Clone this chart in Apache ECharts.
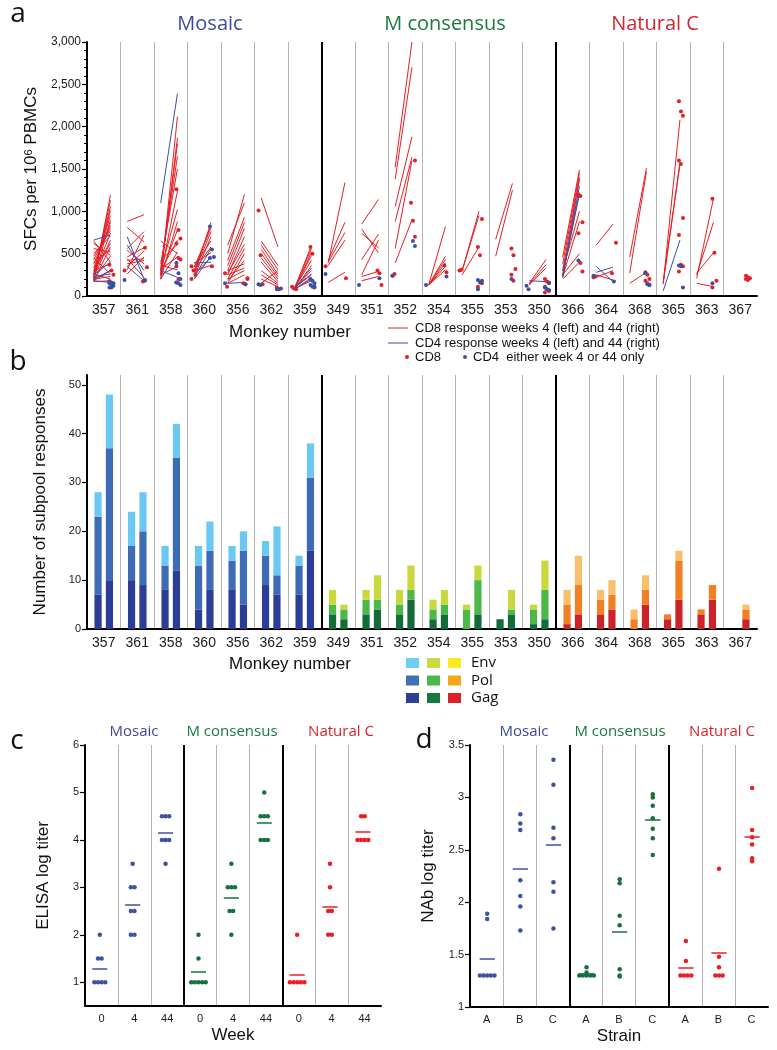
<!DOCTYPE html>
<html>
<head>
<meta charset="utf-8">
<script src="https://cdn.jsdelivr.net/npm/echarts@6/dist/echarts.min.js"></script>
<style>
html,body{margin:0;padding:0;background:#fff}
#main{width:777px;height:1050px}
</style>
</head>
<body>
<div id="main"></div>
<script>
// monkeys, in plot order, and their vaccine groups
var monkeys = ['357','361','358','360','356','362','359','349','351','352','354','355','353','350','366','364','368','365','363','367'];
var groupNames = ['Mosaic', 'M consensus', 'Natural C'];
var groupSizes = [7, 7, 6];

// panel a: CD8 / CD4 responses, [week 4, week 44] pairs per monkey
var cd8Pairs = [
    [[180,1190],[200,1130],[230,1060],[260,1010],[290,950],[200,900],[330,870],[380,830],[430,800],[470,770],[250,740],[500,710],[220,660],[300,620],[180,580],[400,550],[560,520],[200,470],[620,480],[650,400],[300,380],[180,300],[450,260],[200,230],[260,200],[170,180]],
    [[880,960],[810,640],[560,760],[460,570],[420,440],[380,420],[310,720],[260,460],[540,380],[440,220],[350,530]],
    [[200,2120],[240,1870],[280,1800],[320,1650],[380,1500],[250,1240],[300,1020],[650,500],[200,880],[260,780],[300,660],[420,610],[200,520],[320,460],[360,310]],
    [[250,870],[300,840],[340,800],[280,760],[230,700],[350,650],[300,580],[390,510],[250,460],[300,360]],
    [[500,1200],[600,1100],[420,930],[360,870],[300,800],[250,700],[270,610],[200,560],[150,500],[180,420],[300,380],[250,330],[200,300],[150,250]],
    [[1160,580],[650,360],[600,310],[550,260],[500,230],[450,200],[400,170],[300,150],[250,130],[200,110],[150,300]],
    [[90,600],[100,560],[80,520],[90,480],[100,420],[80,360],[90,300],[100,260],[80,220],[90,180]],
    [[390,1340],[420,870],[400,750],[360,660],[160,280]],
    [[850,1140],[790,510],[740,570],[430,730],[250,660],[230,290],[180,230]],
    [[1520,3000],[1380,2700],[1060,1880],[880,1640],[560,1600],[390,900]],
    [[130,820],[130,470],[130,430],[130,390],[130,350],[130,310]],
    [[300,1000],[300,950],[250,580]],
    [[670,1330],[470,1250]],
    [[150,430],[140,370],[130,330]],
    [[460,1490],[380,1450],[300,1400],[220,1380],[250,1210],[300,1000],[230,880],[250,500],[200,400]],
    [[600,850],[220,300],[250,190]],
    [[460,1510],[270,1470],[150,280]],
    [[140,2080],[150,1580],[160,1550]],
    [[210,1150],[250,870],[270,510],[150,110]],
    []
];
var cd4Pairs = [
    [[660,720],[250,400],[200,300],[230,260],[180,160]],
    [[700,200],[600,300],[350,180]],
    [[1100,2390],[250,350],[300,220]],
    [[220,560],[200,470],[390,400]],
    [[150,160]],
    [],
    [[90,330],[100,250],[80,200]],
    [], [], [], [], [], [],
    [[180,170]],
    [[220,1300],[250,1220]],
    [[350,170],[280,340]],
    [],
    [[60,660]],
    [],
    []
];
// single-week responses: [0 = week 4 / 1 = week 44, value]
var cd8Dots = [
    [[1,370],[1,300],[1,250],[1,170],[1,160]],
    [[0,300],[1,570],[1,340],[1,170],[1,180]],
    [[1,1260],[1,780],[1,680],[1,620],[1,450],[1,430],[1,350],[1,200]],
    [[0,350],[0,300],[0,250],[0,200],[1,350]],
    [[0,270],[0,110],[1,200],[1,150],[1,140],[1,210]],
    [[0,1010],[0,480],[0,140],[1,100],[1,80]],
    [[0,110],[0,90],[0,80],[1,580],[1,500],[1,100]],
    [[0,350],[1,210]],
    [[1,300],[1,270],[1,130]],
    [[0,240],[0,260],[1,1600],[1,1100],[1,890],[1,700]],
    [[1,360],[1,280]],
    [[0,300],[0,310],[1,910],[1,580],[1,480],[1,150],[1,110]],
    [[1,560],[1,480],[1,320],[1,250],[1,180]],
    [[1,200],[1,170],[1,160],[1,110],[1,80],[1,60],[1,40]],
    [[1,1200],[1,1180],[1,870],[1,740],[1,390],[1,290]],
    [[0,220],[0,230],[1,630],[1,270]],
    [[1,280],[1,250],[1,200],[1,180],[1,150],[1,130]],
    [[1,2300],[1,2180],[1,2130],[1,1600],[1,1560],[1,920],[1,720],[1,370],[1,350],[1,290]],
    [[1,1150],[1,510],[1,180],[1,100]],
    [[1,240],[1,220],[1,210],[1,200],[1,190]]
];
var cd4Dots = [
    [[1,150],[1,130],[1,120],[1,100],[1,100],[1,150],[1,170]],
    [[0,190],[1,190]],
    [[1,390],[1,270],[1,200],[1,160],[1,150],[1,130],[1,160]],
    [[1,820],[1,550],[1,460],[1,450]],
    [[0,150],[1,140]],
    [[0,140],[0,130],[1,90],[1,80]],
    [[1,200],[1,180],[1,150],[1,130],[1,110],[1,110]],
    [[0,260]],
    [[0,130],[1,210]],
    [[0,240],[1,650],[1,590]],
    [[0,130],[1,230]],
    [[1,190],[1,160],[1,180],[1,80]],
    [[1,200]],
    [[0,120],[0,80],[1,150],[1,100],[1,80],[1,70]],
    [[1,420]],
    [[0,240],[1,170]],
    [[1,270],[1,140],[1,130]],
    [[1,360],[1,350],[1,100]],
    [[1,150]],
    []
];
var sfcTicks = [0, 500, 1000, 1500, 2000, 2500, 3000];

// panel b: number of subpool responses (Gag, Pol, Env) at week 4 and week 44
var gagW4  = [7,10,8,4,8,9,7, 3,3,3,2,0,2,1, 1,3,0,2,3,0];
var polW4  = [16,7,5,9,6,6,6, 2,3,2,2,4,0,3, 4,3,2,1,1,0];
var envW4  = [5,7,4,4,3,3,2, 3,2,3,2,1,0,1, 3,2,2,0,0,0];
var gagW44 = [10,9,12,8,5,7,16, 2,4,6,3,3,3,2, 3,4,5,6,6,2];
var polW44 = [27,11,23,8,11,4,15, 2,2,2,2,7,1,6, 6,3,3,8,3,2];
var envW44 = [11,8,7,6,4,10,7, 1,5,5,3,3,4,6, 6,3,3,2,0,1];
var subpoolTicks = [0, 10, 20, 30, 40, 50];
var proteinNames = ['Env', 'Pol', 'Gag'];

// panel c: ELISA log titer, weeks 0 / 4 / 44 per group
var weekLabels = ['0', '4', '44'];
var elisaMosaic = [[1,1,1,1,1.5,1.5,2], [2,2,2.5,2.5,3,3,3.5], [3.5,4,4,4,4.5,4.5,4.5]];
var elisaMcons  = [[1,1,1,1,1,1.5,2], [2,2.5,2.5,3,3,3,3.5], [4,4,4,4.5,4.5,4.5,5]];
var elisaNatC   = [[1,1,1,1,1,2], [2,2,2.5,2.5,3,3.5], [4,4,4,4,4.5,4.5]];
var elisaTicks = [1, 2, 3, 4, 5, 6];

// panel d: NAb log titer, strains A / B / C per group
var strainLabels = ['A', 'B', 'C'];
var nabMosaic = [[1.3,1.3,1.3,1.3,1.3,1.84,1.89], [1.73,1.96,2.06,2.21,2.69,2.75,2.84], [1.75,2.1,2.19,2.61,2.71,3.12,3.36]];
var nabMcons  = [[1.3,1.3,1.3,1.3,1.3,1.33,1.38], [1.29,1.3,1.36,1.78,1.87,2.18,2.22], [2.45,2.61,2.7,2.8,2.92,3.0,3.03]];
var nabNatC   = [[1.3,1.3,1.3,1.3,1.44,1.63], [1.3,1.3,1.3,1.38,1.48,2.32], [2.39,2.42,2.55,2.62,2.69,3.09]];
var nabTicks = [1, 1.5, 2, 2.5, 3, 3.5];

// ---------------------------------------------------------------
var FONT = 'Liberation Sans, Arial, sans-serif';
var TITLE_FONT = 'Open Sans, Liberation Sans, sans-serif';
var RED = '#e41f26', BLUE = '#3a50a3';
var groupColors = ['#3b4aa0', '#1b7a3e', '#d9232b'];
var dotColors = ['#3f51a3', '#17703d', '#ee1c25'];
var barPalette = [
    ['#2b3d97', '#3d6bb5', '#6ac8f2'],
    ['#126b39', '#4cb848', '#cad83e'],
    ['#cc2229', '#ef8023', '#f9bf6c']
];
var legendSwatch = [
    ['#6dcff6', '#cbdb3f', '#fbec20'],
    ['#3f6fb8', '#4cb84a', '#f9a61a'],
    ['#2d3f96', '#137a40', '#dc2229']
];

function groupOf(i) {
    var acc = 0;
    for (var g = 0; g < groupSizes.length; g++) {
        acc += groupSizes[g];
        if (i < acc) return g;
    }
    return groupSizes.length - 1;
}
function bounds(sizes) {
    var out = [], acc = 0;
    for (var g = 0; g < sizes.length - 1; g++) { acc += sizes[g]; out.push(acc); }
    return out;
}
var monkeySeps = bounds(groupSizes);
var colSeps = bounds([3, 3, 3]);

function sepMark(xs) {
    return {
        silent: true, symbol: ['none', 'none'], animation: false,
        label: {show: false},
        lineStyle: {color: '#000', width: 2, type: 'solid'},
        emphasis: {disabled: true},
        data: xs.map(function (x) { return {xAxis: x}; })
    };
}

var leftPos = 0.2, rightPos = 0.7;
function pairLines(pairs) {
    var out = [];
    pairs.forEach(function (list, i) {
        list.forEach(function (p) {
            out.push({coords: [[i + leftPos, p[0]], [i + rightPos, p[1]]]});
        });
    });
    return out;
}
function singleDots(dots) {
    var out = [];
    dots.forEach(function (list, i) {
        list.forEach(function (d, k) {
            var x = i + (d[0] === 0 ? leftPos - 0.02 : rightPos + 0.03) + ((k % 3) - 1) * 0.06;
            out.push([x, d[1]]);
        });
    });
    return out;
}

var barData = [];
monkeys.forEach(function (m, i) {
    var g = groupOf(i);
    [[gagW4, polW4, envW4, 0.33], [gagW44, polW44, envW44, 0.67]].forEach(function (set) {
        var base = 0;
        for (var L = 0; L < 3; L++) {
            var v = set[L][i];
            if (v > 0) barData.push([i + set[3], base, base + v, g * 3 + L]);
            base += v;
        }
    });
});
function renderBar(params, api) {
    var lo = api.coord([api.value(0), api.value(1)]);
    var hi = api.coord([api.value(0), api.value(2)]);
    var c = api.value(3);
    // palette order is gag, pol, env
    return {
        type: 'rect',
        shape: {x: lo[0] - 3.6, y: hi[1], width: 7.2, height: lo[1] - hi[1]},
        style: {fill: barPalette[Math.floor(c / 3)][c % 3]}
    };
}

function swarm(cols, offset, center, step) {
    var out = [];
    cols.forEach(function (vals, j) {
        var counts = {}, seen = {};
        vals.forEach(function (v) { counts[v] = (counts[v] || 0) + 1; });
        vals.forEach(function (v) {
            var k = seen[v] || 0;
            seen[v] = k + 1;
            out.push([offset + j + center + (k - (counts[v] - 1) / 2) * step, v]);
        });
    });
    return out;
}
function meanBars(cols, offset, center, half) {
    return cols.map(function (vals, j) {
        var s = 0;
        vals.forEach(function (v) { s += v; });
        var m = s / vals.length;
        return {coords: [[offset + j + center - half, m], [offset + j + center + half, m]]};
    });
}

function valueX(grid, max) {
    return {
        type: 'value', gridIndex: grid, min: 0, max: max, interval: 1,
        axisLine: {show: true, lineStyle: {color: '#000', width: 2}},
        axisTick: {show: false}, axisLabel: {show: false},
        splitLine: {show: true, showMinLine: false, showMaxLine: false, lineStyle: {color: '#b4b4b4', width: 1}}
    };
}
function labelX(grid, data, size, extra) {
    var ax = {
        type: 'category', gridIndex: grid, data: data, position: 'bottom',
        axisLine: {show: false}, axisTick: {show: false},
        axisLabel: {interval: 0, fontSize: size, fontFamily: FONT, color: '#1a1a1a', margin: 7}
    };
    for (var k in extra) ax[k] = extra[k];
    return ax;
}
function valueY(grid, opts) {
    var ax = {
        type: 'value', gridIndex: grid,
        axisLine: {show: true, lineStyle: {color: '#000', width: 2}},
        axisTick: {show: true, length: 5, lineStyle: {color: '#000', width: 1.2}},
        axisLabel: {fontSize: 11, fontFamily: FONT, color: '#1a1a1a', margin: 6},
        splitLine: {show: false},
        nameLocation: 'middle', nameRotate: 90,
        nameTextStyle: {fontSize: 17, fontFamily: FONT, color: '#111'}
    };
    for (var k in opts) ax[k] = opts[k];
    return ax;
}

var colsC = [elisaMosaic, elisaMcons, elisaNatC];
var colsD = [nabMosaic, nabMcons, nabNatC];
var repeat3 = function (arr) { return arr.concat(arr, arr); };

var series = [
    {type: 'lines', coordinateSystem: 'cartesian2d', xAxisIndex: 0, yAxisIndex: 0, polyline: false, silent: true,
        lineStyle: {color: RED, width: 1, opacity: 1}, data: pairLines(cd8Pairs), z: 3},
    {type: 'lines', coordinateSystem: 'cartesian2d', xAxisIndex: 0, yAxisIndex: 0, polyline: false, silent: true,
        lineStyle: {color: BLUE, width: 1, opacity: 1}, data: pairLines(cd4Pairs), z: 4},
    {type: 'scatter', xAxisIndex: 0, yAxisIndex: 0, symbolSize: 4, itemStyle: {color: RED, opacity: 1},
        data: singleDots(cd8Dots), z: 5, markLine: sepMark(monkeySeps)},
    {type: 'scatter', xAxisIndex: 0, yAxisIndex: 0, symbolSize: 4, itemStyle: {color: BLUE, opacity: 1},
        data: singleDots(cd4Dots), z: 5},
    {type: 'custom', xAxisIndex: 2, yAxisIndex: 1, renderItem: renderBar, encode: {x: 0, y: [1, 2]},
        data: barData, markLine: sepMark(monkeySeps)}
];
colsC.forEach(function (cols, g) {
    series.push({type: 'scatter', xAxisIndex: 4, yAxisIndex: 2, symbolSize: 4.5,
        itemStyle: {color: dotColors[g], opacity: 1}, data: swarm(cols, g * 3, 0.45, 0.11),
        markLine: g === 0 ? sepMark(colSeps) : undefined});
    series.push({type: 'lines', coordinateSystem: 'cartesian2d', xAxisIndex: 4, yAxisIndex: 2, polyline: false,
        silent: true, lineStyle: {color: dotColors[g], width: 1.5, opacity: 1}, data: meanBars(cols, g * 3, 0.45, 0.23)});
});
colsD.forEach(function (cols, g) {
    series.push({type: 'scatter', xAxisIndex: 6, yAxisIndex: 3, symbolSize: 4.5,
        itemStyle: {color: dotColors[g], opacity: 1}, data: swarm(cols, g * 3, 0.52, 0.11),
        markLine: g === 0 ? sepMark(colSeps) : undefined});
    series.push({type: 'lines', coordinateSystem: 'cartesian2d', xAxisIndex: 6, yAxisIndex: 3, polyline: false,
        silent: true, lineStyle: {color: dotColors[g], width: 1.5, opacity: 1}, data: meanBars(cols, g * 3, 0.52, 0.23)});
});

// texts and legends drawn as graphic elements
function txt(x, y, s, size, color, family, align) {
    return {type: 'text', x: x, y: y, silent: true,
        style: {text: s, fontSize: size, fontFamily: family || FONT, fill: color || '#111',
            textAlign: align || 'center', textVerticalAlign: 'middle'}};
}
var graphics = [
    txt(18, 14, 'a', 28, '#111', TITLE_FONT),
    txt(18, 362, 'b', 28, '#111', TITLE_FONT),
    txt(17, 741, 'c', 28, '#111', TITLE_FONT),
    txt(424, 740, 'd', 28, '#111', TITLE_FONT),
    txt(210, 24, groupNames[0], 20, groupColors[0], TITLE_FONT),
    txt(445, 24, groupNames[1], 20, groupColors[1], TITLE_FONT),
    txt(655, 24, groupNames[2], 20, groupColors[2], TITLE_FONT),
    txt(290, 332, 'Monkey number', 17),
    txt(290, 664, 'Monkey number', 17),
    txt(134, 732, groupNames[0], 15, groupColors[0], TITLE_FONT),
    txt(232, 732, groupNames[1], 15, groupColors[1], TITLE_FONT),
    txt(341, 732, groupNames[2], 15, groupColors[2], TITLE_FONT),
    txt(524, 732, groupNames[0], 15, groupColors[0], TITLE_FONT),
    txt(620, 732, groupNames[1], 15, groupColors[1], TITLE_FONT),
    txt(722, 732, groupNames[2], 15, groupColors[2], TITLE_FONT),
    // legend for panel a
    {type: 'line', silent: true, shape: {x1: 388, y1: 328, x2: 408, y2: 328}, style: {stroke: RED, lineWidth: 1}},
    txt(415, 328, 'CD8 response weeks 4 (left) and 44 (right)', 13, '#111', FONT, 'left'),
    {type: 'line', silent: true, shape: {x1: 388, y1: 343, x2: 408, y2: 343}, style: {stroke: BLUE, lineWidth: 1}},
    txt(415, 343, 'CD4 response weeks 4 (left) and 44 (right)', 13, '#111', FONT, 'left'),
    {type: 'circle', silent: true, shape: {cx: 407, cy: 357, r: 2}, style: {fill: RED}},
    txt(415, 357, 'CD8', 13, '#111', FONT, 'left'),
    {type: 'circle', silent: true, shape: {cx: 465, cy: 357, r: 2}, style: {fill: BLUE}},
    txt(473, 357, 'CD4  either week 4 or 44 only', 13, '#111', FONT, 'left')
];
proteinNames.forEach(function (name, r) {
    for (var c = 0; c < 3; c++) {
        graphics.push({type: 'rect', silent: true, shape: {x: 406 + c * 21, y: 658 + r * 17.5, width: 13, height: 10},
            style: {fill: legendSwatch[r][c]}});
    }
    graphics.push(txt(471, 663 + r * 17.5, name, 15, '#111', TITLE_FONT, 'left'));
});

var chart = echarts.init(document.getElementById('main'));
var option = {
    animation: false,
    backgroundColor: '#fff',
    grid: [
        {left: 87, top: 42, width: 670, height: 254},
        {left: 87, top: 375, width: 670, height: 254},
        {left: 85, top: 745, width: 296, height: 261},
        {left: 470, top: 745, width: 298, height: 262}
    ],
    xAxis: [
        valueX(0, monkeys.length),
        labelX(0, monkeys, 14),
        valueX(1, monkeys.length),
        labelX(1, monkeys, 14),
        valueX(2, 9),
        labelX(2, repeat3(weekLabels), 11, {name: 'Week', nameLocation: 'middle', nameGap: 21,
            nameTextStyle: {fontSize: 17, fontFamily: FONT, color: '#111'}}),
        valueX(3, 9),
        labelX(3, repeat3(strainLabels), 11, {name: 'Strain', nameLocation: 'middle', nameGap: 21,
            nameTextStyle: {fontSize: 17, fontFamily: FONT, color: '#111'}})
    ],
    yAxis: [
        valueY(0, {min: 0, max: 3000, interval: 500, name: 'SFCs per 10{sup|6} PBMCs', nameGap: 47,
            minorTick: {show: true, splitNumber: 5, length: 3, lineStyle: {color: '#000', width: 1}},
            axisLabel: {fontSize: 12, fontFamily: FONT, color: '#1a1a1a', margin: 6,
                customValues: sfcTicks,
                formatter: function (v) { return String(v).replace(/\B(?=(\d{3})+(?!\d))/g, ','); }},
            axisTick: {show: true, length: 5, customValues: sfcTicks, lineStyle: {color: '#000', width: 1.2}},
            nameTextStyle: {fontSize: 17, fontFamily: FONT, color: '#111',
                rich: {sup: {fontSize: 11, fontFamily: FONT, color: '#111', verticalAlign: 'top', lineHeight: 12}}}}),
        valueY(1, {min: 0, max: 52, name: 'Number of subpool responses', nameGap: 38,
            axisLabel: {fontSize: 11, fontFamily: FONT, color: '#1a1a1a', margin: 6, customValues: subpoolTicks},
            axisTick: {show: true, length: 5, customValues: subpoolTicks, lineStyle: {color: '#000', width: 1.2}}}),
        valueY(2, {min: 0.5, max: 6, name: 'ELISA log titer', nameGap: 33,
            axisLabel: {fontSize: 11, fontFamily: FONT, color: '#1a1a1a', margin: 6, customValues: elisaTicks},
            axisTick: {show: true, length: 5, customValues: elisaTicks, lineStyle: {color: '#000', width: 1.2}}}),
        valueY(3, {min: 1, max: 3.5, interval: 0.5, name: 'NAb log titer', nameGap: 33,
            axisLabel: {fontSize: 11, fontFamily: FONT, color: '#1a1a1a', margin: 6, customValues: nabTicks},
            axisTick: {show: true, length: 5, customValues: nabTicks, lineStyle: {color: '#000', width: 1.2}}})
    ],
    series: series,
    graphic: {elements: graphics}
};
chart.setOption(option);
</script>
</body>
</html>
